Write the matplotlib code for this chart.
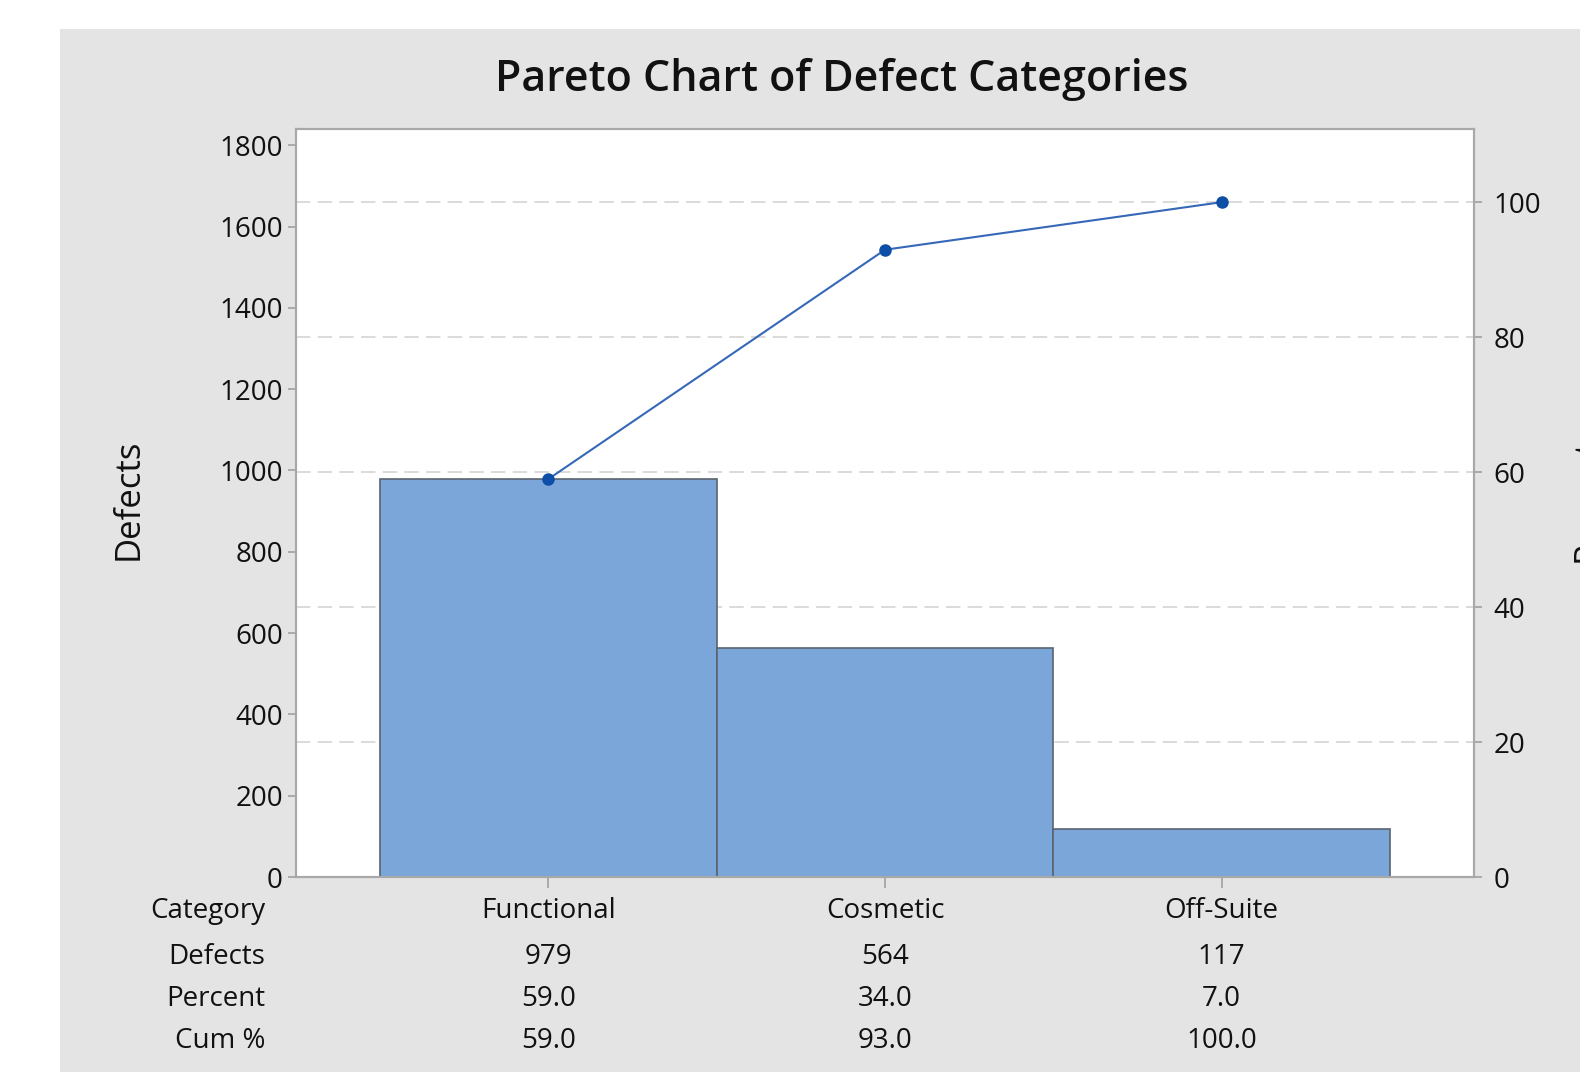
import matplotlib.pyplot as plt
from matplotlib.patches import Rectangle
from matplotlib.transforms import blended_transform_factory
import numpy as np

plt.rcParams['font.family'] = ['Open Sans', 'DejaVu Sans']

categories = ["Functional", "Cosmetic", "Off-Suite"]
defects = [979, 564, 117]
percent = [59.0, 34.0, 7.0]
cum_pct = [59.0, 93.0, 100.0]

total = sum(defects)
cum_counts = np.cumsum(defects)

fig = plt.figure(figsize=(15.8, 10.72), dpi=100)
fig.patch.set_facecolor("white")
# gray panel behind the chart
fig.patches.append(Rectangle((60 / 1580, 0), 1, (1072 - 29) / 1072,
                             transform=fig.transFigure, facecolor="#e4e4e4",
                             edgecolor="none", zorder=-10))

ax = fig.add_axes([296 / 1580, 195 / 1072, 1178 / 1580, 748 / 1072])
ax.set_facecolor("white")
x = np.arange(len(categories))

ax.bar(x, defects, width=1.0, color="#7ba6d9", edgecolor="#5a6470",
       linewidth=1.2, zorder=2)
ax.plot(x, cum_counts, color="#3568b8", linewidth=1.5, marker="o",
        markersize=8, markerfacecolor="#0d4ea6", markeredgecolor="#0d4ea6",
        zorder=4)

ymax = 1840
ax.set_xlim(-0.75, 2.75)
ax.set_ylim(0, ymax)
ax.set_yticks(np.arange(0, 1801, 200))
ax.set_xticks(x)
ax.set_xticklabels([])

ax2 = ax.twinx()
ax2.set_ylim(0, ymax / total * 100)
ax2.set_yticks(np.arange(0, 101, 20))
for p in np.arange(20, 101, 20):
    ax.axhline(p / 100 * total, color="#d8d8d8", linewidth=1.3,
               linestyle=(0, (8, 4)), zorder=1)

for a in (ax, ax2):
    for s in a.spines.values():
        s.set_color("#a8a8a8")
        s.set_linewidth(1.5)
    a.tick_params(colors="#a0a0a0", length=6, width=1.2, labelsize=20,
                  labelcolor="#111111")
ax.tick_params(axis="x", length=8)
ax2.tick_params(axis="y", pad=8)

fig.text(129 / 1580, 1 - 499 / 1072, "Defects", rotation=90, fontsize=25,
         color="#111111", ha="center", va="center")
# right axis label, cut by the figure edge as in the source image
fig.text(1571 / 1580, 1 - 500 / 1072, "Percent", rotation=90, fontsize=25,
         color="#111111", ha="left", va="center")

fig.text(842 / 1580, 1 - 79 / 1072, "Pareto Chart of Defect Categories",
         fontsize=31, fontweight="semibold", color="#111111",
         ha="center", va="center")

# table below the chart
tr = blended_transform_factory(ax.transData, fig.transFigure)
rows = [("Category", categories, 911),
        ("Defects", [str(d) for d in defects], 957),
        ("Percent", [f"{p:.1f}" for p in percent], 999),
        ("Cum %", [f"{c:.1f}" for c in cum_pct], 1041)]
for label, vals, ypix in rows:
    yf = 1 - ypix / 1072
    fig.text(265 / 1580, yf, label, fontsize=20, color="#111111",
             ha="right", va="center")
    for xi, v in zip(x, vals):
        ax.text(xi, yf, v, transform=tr, fontsize=20, color="#111111",
                ha="center", va="center", clip_on=False)

fig.savefig("out.png", dpi=100)
